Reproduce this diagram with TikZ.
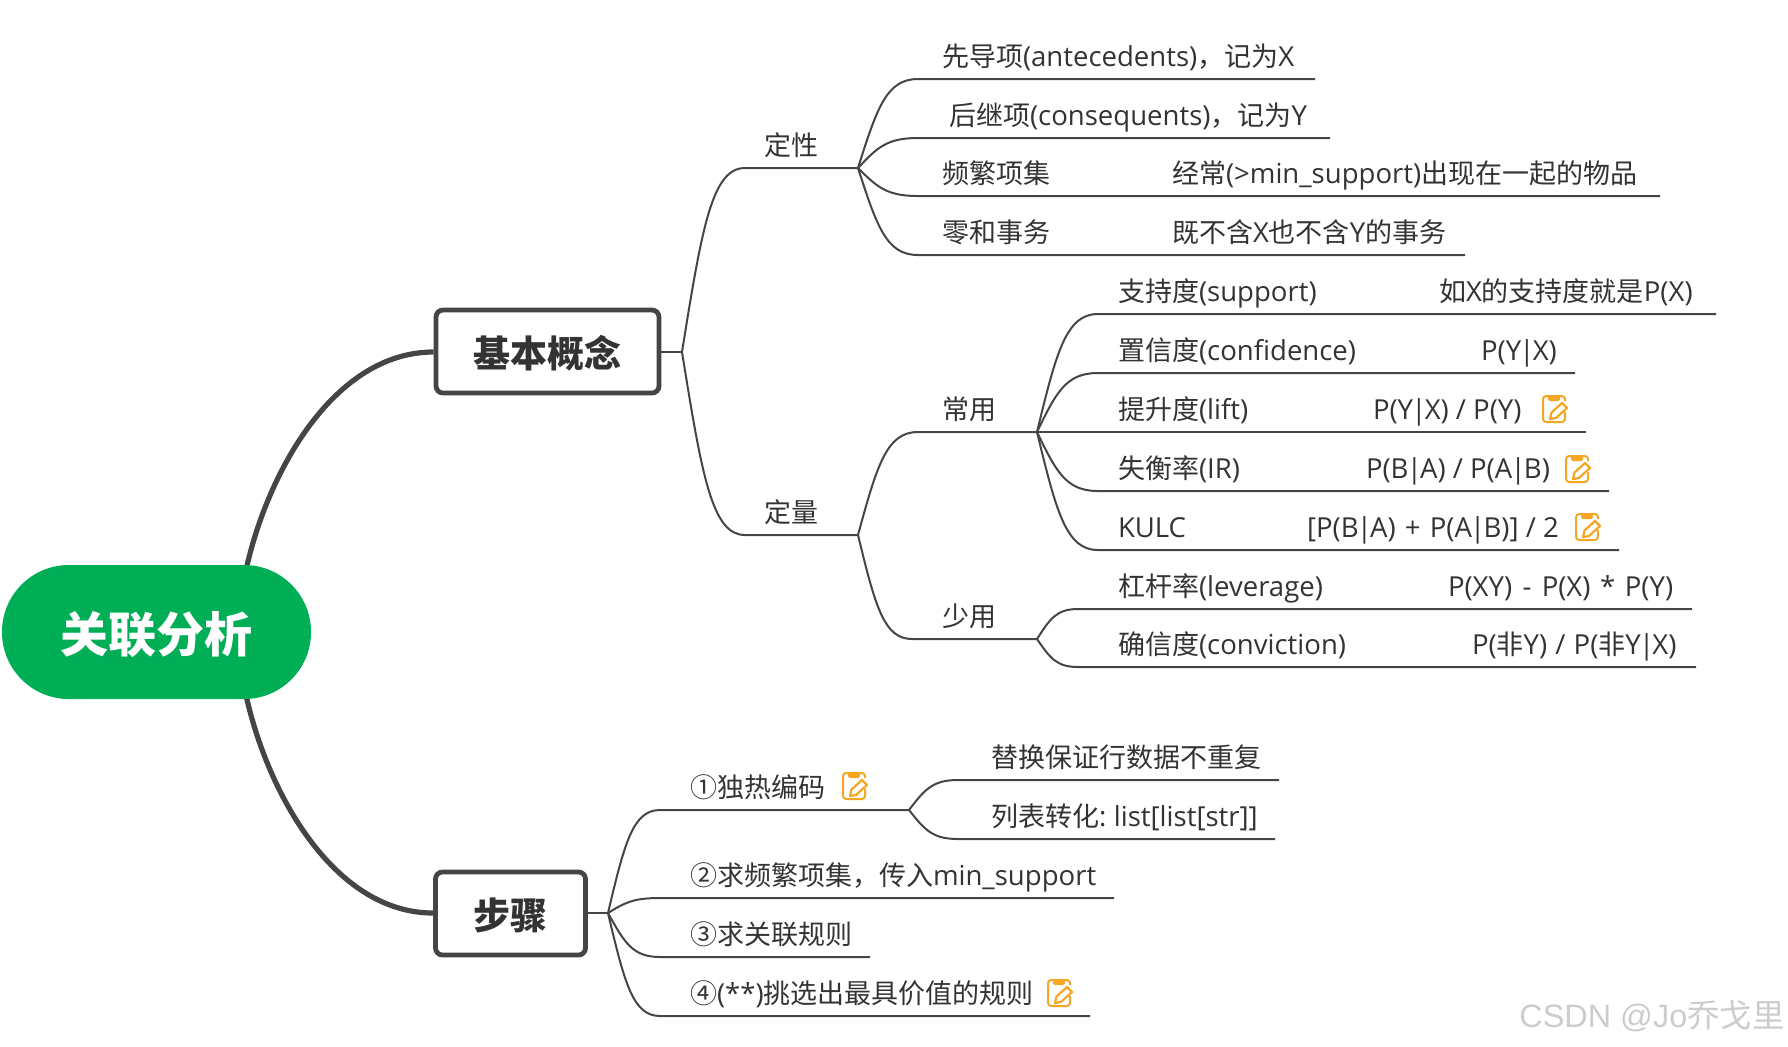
\documentclass[tikz,border=0pt]{standalone}
\usepackage{fontspec}
\usetikzlibrary{calc}
\setmainfont[Scale=1.02]{Open Sans}
\newfontfamily\cjk{Noto Sans CJK SC}
\newfontfamily\wmfont{Liberation Sans}
\newcommand\C[1]{{\cjk #1}}
\newcommand\Bar{\kern-.9pt|\kern-.9pt}
\definecolor{ink}{HTML}{333333}
\definecolor{linec}{HTML}{454545}
\definecolor{rootg}{HTML}{00AE55}
\definecolor{iconc}{HTML}{F5A623}
\tikzset{
  fanline/.style={draw=linec,line width=1pt},
  thickline/.style={draw=linec,line width=2.6pt},
  lab/.style={anchor=base west,inner sep=0pt,outer sep=0pt,yshift=-.9pt,text=ink,font=\fontsize{13.5}{16}\selectfont},
  boxnode/.style={draw=linec,fill=white,line width=2.4pt,rounded corners=3.5pt,inner sep=0pt,text=ink,font=\fontsize{18.5}{22}\selectfont\bfseries\cjk},
  rootnode/.style={fill=rootg,rounded corners=33.4pt,inner sep=0pt,text=white,minimum width=154.5pt,minimum height=67pt,font=\fontsize{24}{28}\selectfont\bfseries\cjk},
  noteicon/.pic={
    \draw[iconc,line width=1pt,rounded corners=1.6pt] (23,17)--(23,27)--(1,27)--(1,1)--(23,1)--(23,6);
    \fill[iconc,rounded corners=.8pt] (6,1)rectangle(18,6);
    \draw[iconc,line width=1.1pt,line join=round] (8,24)--(9.5,17.5)--(20,8)--(25,13)--(14,23)--cycle;
  }
}
\newcommand\fan[3]{\draw[fanline] let \p1=(#1),\p2=(#2) in (\p1) .. controls ({\x1+.32*(\x2-\x1)},{\y1+.685*(\y2-\y1)}) and ({\x1+.48*(\x2-\x1)},\y2) .. (\p2) -- (#3);}
\begin{document}
\begin{tikzpicture}[x=.5pt,y=-.5pt]
\useasboundingbox (0,0) rectangle (1788,1046);
% hubs
\coordinate (rootUp) at (246,570);
\coordinate (rootDn) at (246,695);
\coordinate (hA) at (682,352);
\coordinate (hB) at (608,913);
\coordinate (hQual) at (858,168);
\coordinate (hQuant) at (858,535);
\coordinate (hCommon) at (1037,432);
\coordinate (hRare) at (1037,639);
\coordinate (hOne) at (909,810);
% thick links
\node[boxnode,minimum width=111.5pt,minimum height=41.5pt] (basic) at (547.5,351.5) {\smash{\raisebox{-8pt}{基本概念}}};
\node[boxnode,minimum width=75pt,minimum height=41.5pt] (steps) at (510.5,913.5) {\smash{\raisebox{-8pt}{步骤}}};
\draw[thickline] (rootUp) .. controls (268,470) and (335,352) .. (basic.west |- hA);
\draw[thickline] (rootDn) .. controls (268,795) and (335,913) .. (steps.west |- hB);
\node[rootnode] (root) at (156.5,632) {\smash{\raisebox{-10pt}{关联分析}}};
\draw[fanline] (basic.east |- hA) -- (hA);
\draw[fanline] (steps.east |- hB) -- (hB);
% level 2
\coordinate (qualS) at (745,168);
\coordinate (quantS) at (745,535);
\fan{hA}{qualS}{hQual}
\fan{hA}{quantS}{hQuant}
\node[lab] (qual) at (764,154) {\C{定性}};
\node[lab] (quant) at (764,521) {\C{定量}};
% qualitative
\foreach \kk/\yy/\ee in {a/79/1315,b/138/1330,c/196/1660,d/255/1465}{
  \coordinate (q\kk S) at (918,\yy);
  \coordinate (q\kk E) at (\ee,\yy);
  \fan{hQual}{q\kk S}{q\kk E}
}
\node[lab] (t1) at (942,65) {\C{先导项}(antecedents)\C{，记为}X};
\node[lab] (t2) at (949,124) {\C{后继项}(consequents)\C{，记为}Y};
\node[lab] (t3) at (942,182) {\C{频繁项集}};
\node[lab] (t3b) at (1172,182) {\C{经常}(>min\_support)\C{出现在一起的物品}};
\node[lab] (t4) at (942,241) {\C{零和事务}};
\node[lab] (t4b) at (1172,241) {\C{既不含}X\C{也不含}Y\C{的事务}};
% quantitative
\coordinate (comS) at (918,432);
\coordinate (rarS) at (912,639);
\fan{hQuant}{comS}{hCommon}
\fan{hQuant}{rarS}{hRare}
\node[lab] (common) at (942,418) {\C{常用}};
\node[lab] (rare) at (942,625) {\C{少用}};
\foreach \kk/\yy/\ee in {a/314/1716,b/373/1575,d/491/1609,e/550/1619}{
  \coordinate (c\kk S) at (1098,\yy);
  \coordinate (c\kk E) at (\ee,\yy);
  \fan{hCommon}{c\kk S}{c\kk E}
}
\coordinate (ccE) at (1586,432);
\draw[fanline] (hCommon) -- (ccE);
\foreach \kk/\yy/\ee in {a/609/1692,b/667/1696}{
  \coordinate (r\kk S) at (1078,\yy);
  \coordinate (r\kk E) at (\ee,\yy);
  \fan{hRare}{r\kk S}{r\kk E}
}
\node[lab] (c1) at (1118,300) {\C{支持度}(support)};
\node[lab] (c1b) at (1439,300) {\C{如}X\C{的支持度就是}P(X)};
\node[lab] (c2) at (1118,359) {\C{置信度}(confidence)};
\node[lab] (c2b) at (1481,359) {P(Y\Bar X)};
\node[lab] (c3) at (1118,418) {\C{提升度}(lift)};
\node[lab] (c3b) at (1373,418) {P(Y\Bar X) / P(Y)};
\node[lab] (c4) at (1118,477) {\C{失衡率}(IR)};
\node[lab] (c4b) at (1366,477) {P(B\Bar A) / P(A\Bar B)};
\node[lab] (c5) at (1118,536) {KULC};
\node[lab] (c5b) at (1307,536) {[P(B\Bar A)\hspace{1pt} + \hspace{1pt}P(A\Bar B)] / 2};
\node[lab] (r1) at (1118,595) {\C{杠杆率}(leverage)};
\node[lab] (r1b) at (1448,595) {P(XY)\hspace{1.6pt} - \hspace{1.6pt}P(X)\hspace{1.2pt} * \hspace{1.2pt}P(Y)};
\node[lab] (r2) at (1118,653) {\C{确信度}(conviction)};
\node[lab] (r2b) at (1472,653) {P(\C{非}Y)\hspace{.5pt} / \hspace{.5pt}P(\C{非}Y\Bar X)};
\pic at (1542,395) {noteicon};
\pic at (1565,455) {noteicon};
\pic at (1575,513) {noteicon};
% steps
\foreach \kk/\yy/\ee in {a/810/909,b/898/1114,c/957/870,d/1016/1090}{
  \coordinate (s\kk S) at (660,\yy);
  \coordinate (s\kk E) at (\ee,\yy);
  \fan{hB}{s\kk S}{s\kk E}
}
\foreach \kk/\yy/\ee in {a/780/1279,b/839/1275}{
  \coordinate (o\kk S) at (958,\yy);
  \coordinate (o\kk E) at (\ee,\yy);
  \fan{hOne}{o\kk S}{o\kk E}
}
\node[lab] (s1) at (690,796) {\C{①独热编码}};
\node[lab] (s2) at (690,884) {\C{②求频繁项集，传入}min\_support};
\node[lab] (s3) at (690,943) {\C{③求关联规则}};
\node[lab] (s4) at (690,1002) {\C{④}(**)\C{挑选出最具价值的规则}};
\node[lab] (o1) at (991,766) {\C{替换保证行数据不重复}};
\node[lab] (o2) at (991,825) {\C{列表转化}:\kern-1pt{} list[list[str]]};
\pic at (842,772) {noteicon};
\pic at (1047,979) {noteicon};
% watermark
\node[anchor=base west,inner sep=0pt,text=black!20,font=\fontsize{16.2}{20}\selectfont\wmfont] (wm) at (1519,1027) {CSDN @Jo\C{乔戈里}};
\end{tikzpicture}
\end{document}
